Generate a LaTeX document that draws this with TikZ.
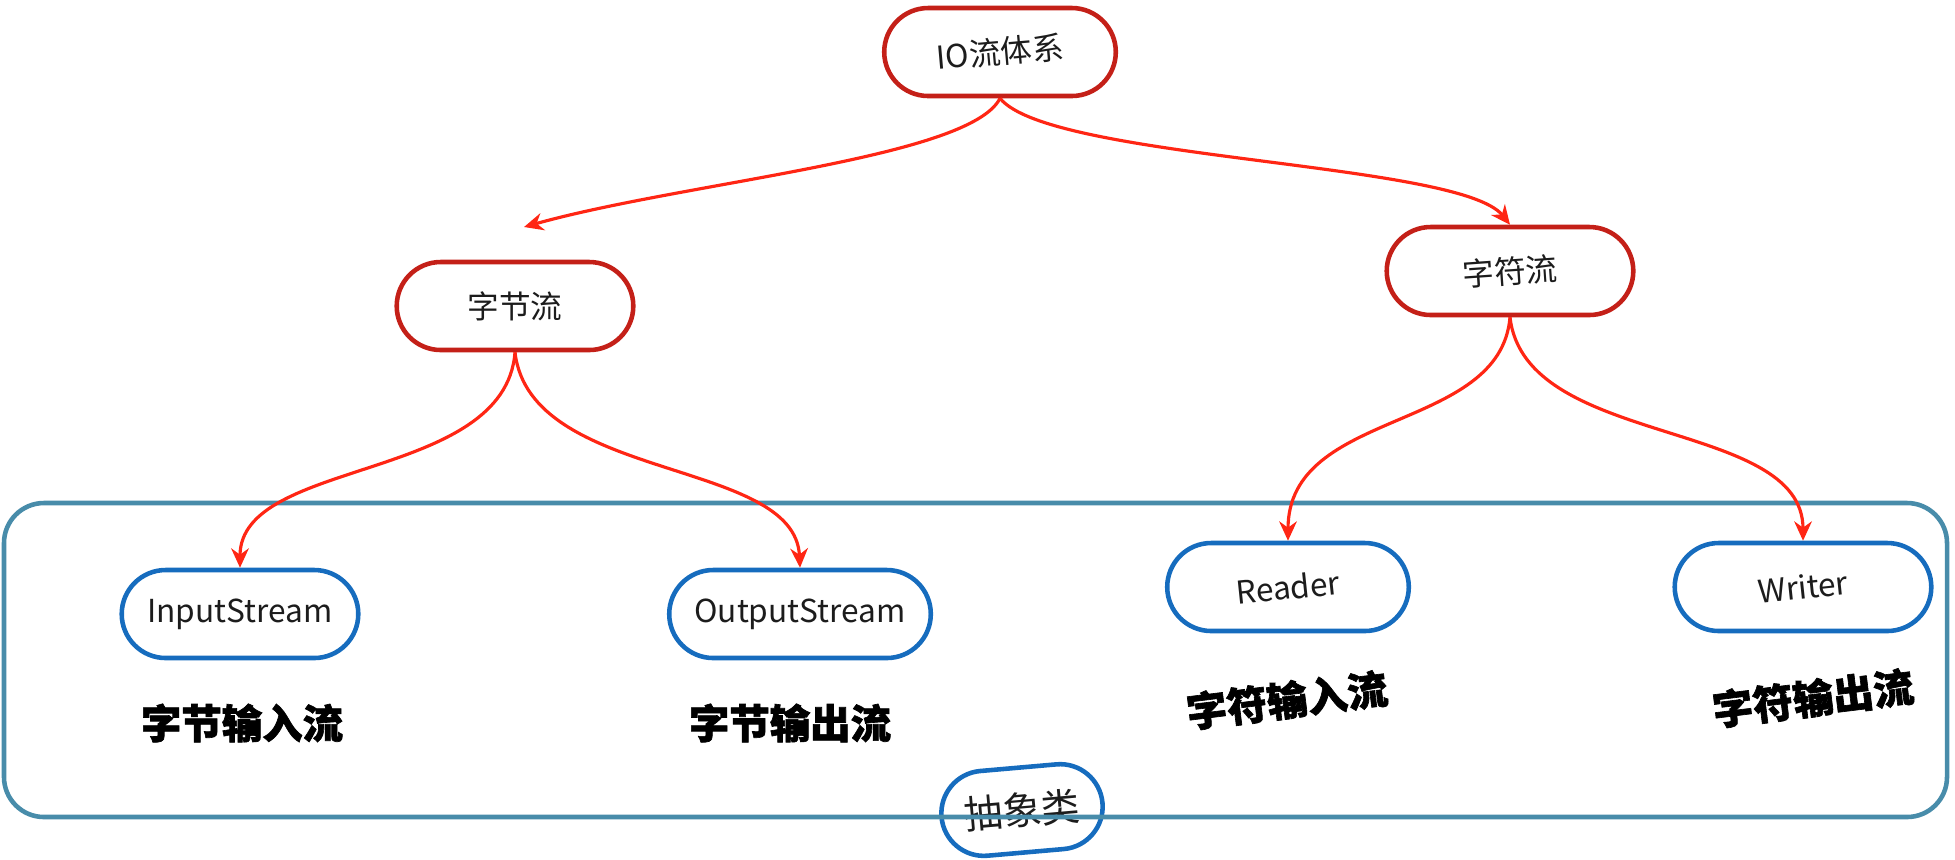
\documentclass[tikz,border=0pt]{standalone}
\usepackage{fontspec}
\setmainfont{Noto Sans CJK SC}
\newfontfamily\tagfont[FakeBold=1.6]{Noto Sans CJK SC}
\usepackage{graphicx}
\usepackage{tikz}
\usetikzlibrary{shapes.misc, arrows.meta, positioning}
\definecolor{ored}{RGB}{196, 32, 24}
\definecolor{ablue}{RGB}{22, 108, 190}
\definecolor{aline}{RGB}{255, 38, 20}
\definecolor{frameblue}{RGB}{72, 140, 170}
\definecolor{ink}{RGB}{28, 28, 28}

\begin{document}
\begin{tikzpicture}[
    topnode/.style={draw=ored, line width=1.3pt, rounded rectangle, minimum height=0.88cm, text=ink, font=\fontsize{9}{11}\selectfont},
    classnode/.style={draw=ablue, line width=1.3pt, rounded rectangle, minimum height=0.88cm, text=ink, font=\fontsize{9}{11}\selectfont},
    tag/.style={font=\tagfont\fontsize{11.5}{13}\selectfont\bfseries},
    flow/.style={draw=aline, line width=0.9pt, -{Stealth[length=5.5pt, width=5pt]}},
]
    \useasboundingbox (0,0) rectangle (19.55,-8.59);

    % Root
    \node[topnode, minimum width=2.55cm] (io) at (10.0,-0.52) {\rotatebox{5}{IO流体系}};

    % Byte / char streams
    \node[topnode, minimum width=2.6cm] (bytes) at (5.15,-3.06) {字节流};
    \node[topnode, minimum width=2.7cm] (chars) at (15.1,-2.71) {\rotatebox{4}{字符流}};
    \coordinate (bytestip) at (5.24,-2.27);

    % Abstract classes
    \node[classnode, minimum width=2.6cm] (instream) at (2.4,-6.14) {InputStream};
    \node[classnode, minimum width=2.85cm] (outstream) at (8.0,-6.14) {OutputStream};
    \node[classnode, minimum width=2.65cm] (reader) at (12.88,-5.87) {\rotatebox{6}{Reader}};
    \node[classnode, minimum width=2.8cm] (writer) at (18.03,-5.87) {\rotatebox{6}{Writer}};

    \node[tag] (bytein) at (2.42,-7.23) {字节输入流};
    \node[tag] (byteout) at (7.9,-7.23) {字节输出流};
    \node[tag, rotate=7] (charin) at (12.87,-7.0) {字符输入流};
    \node[tag, rotate=7] (charout) at (18.13,-6.98) {字符输出流};

    \node[classnode, rotate=5, minimum width=1.85cm, minimum height=0.85cm, font=\fontsize{11}{13}\selectfont] (abstract) at (10.22,-8.1) {抽象类};
    \node[draw=frameblue, line width=1.3pt, rounded corners=0.4cm, minimum width=19.43cm, minimum height=3.14cm] (frame) at (9.755,-6.6) {};

    % Arrows
    \draw[flow] (io.south) .. controls +(-0.3,-0.6) and +(1.6,0.45) .. (bytestip);
    \draw[flow] (io.south) .. controls +(0.5,-0.62) and +(-0.5,0.63) .. (chars.north);
    \draw[flow] (bytes.south) .. controls +(-0.1,-1.3) and +(0,1.1) .. (instream.north);
    \draw[flow] (bytes.south) .. controls +(0.15,-1.3) and +(-0.05,1.1) .. (outstream.north);
    \draw[flow] (chars.south) .. controls +(-0.1,-1.16) and +(0,1.33) .. (reader.north);
    \draw[flow] (chars.south) .. controls +(0.15,-1.31) and +(0,1.23) .. (writer.north);
\end{tikzpicture}
\end{document}
